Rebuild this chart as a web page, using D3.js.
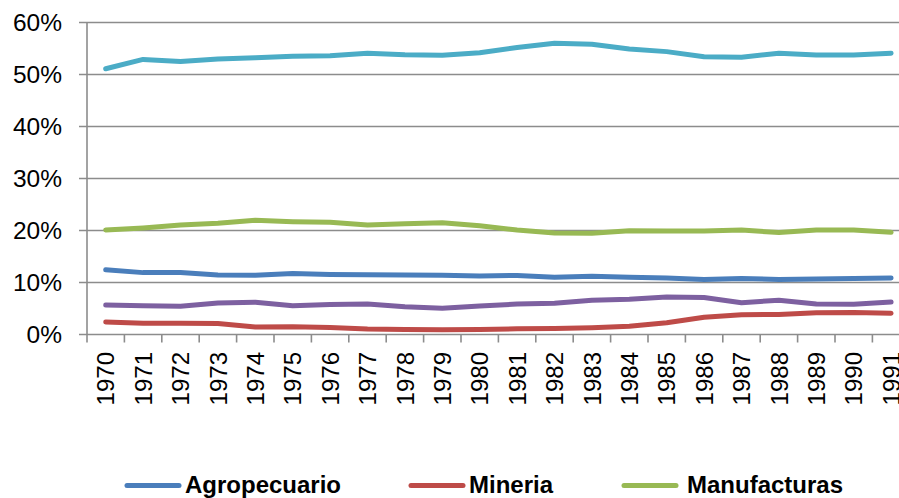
<!DOCTYPE html>
<html><head><meta charset="utf-8">
<script src="https://cdn.jsdelivr.net/npm/d3@7"></script>
<style>
html,body{margin:0;padding:0;background:#fff;overflow:hidden}
text{font-family:"Liberation Sans",Arial,sans-serif;fill:#000}
</style></head><body>
<svg id="c" width="899" height="498"></svg>
<script>
const years = ["1970","1971","1972","1973","1974","1975","1976","1977","1978","1979","1980","1981","1982","1983","1984","1985","1986","1987","1988","1989","1990","1991"];
const yTicks = [0,10,20,30,40,50,60];
const servicios    = [51.1,52.9,52.5,53.0,53.2,53.5,53.6,54.1,53.8,53.7,54.2,55.2,56.0,55.8,54.9,54.4,53.4,53.3,54.1,53.75,53.75,54.1];
const manufacturas = [20.1,20.5,21.05,21.4,21.95,21.7,21.6,21.05,21.3,21.5,20.9,20.1,19.5,19.45,19.95,19.9,19.9,20.1,19.6,20.1,20.1,19.65];
const agropecuario = [12.45,11.9,11.9,11.45,11.4,11.75,11.55,11.5,11.45,11.4,11.25,11.35,11.0,11.2,11.0,10.85,10.6,10.75,10.6,10.65,10.75,10.85];
const otros        = [5.65,5.55,5.45,6.05,6.2,5.55,5.75,5.85,5.35,5.05,5.5,5.85,6.0,6.6,6.8,7.2,7.1,6.1,6.6,5.85,5.8,6.25];
const mineria      = [2.4,2.15,2.15,2.1,1.45,1.5,1.35,1.05,0.95,0.9,0.95,1.1,1.15,1.3,1.6,2.25,3.3,3.8,3.85,4.2,4.25,4.1];

const seriesList = [
  {name:"Agropecuario", values:agropecuario, color:"#4A7EBB", legend:true},
  {name:"Mineria", values:mineria, color:"#BE4B48", legend:true},
  {name:"Manufacturas", values:manufacturas, color:"#98B954", legend:true},
  {name:"Otros", values:otros, color:"#7D60A0", legend:false},
  {name:"Servicios", values:servicios, color:"#4BACC6", legend:false}
];

const svg = d3.select("#c");
const plotLeft = 87, plotTop = 22.5, plotBottom = 334.5, bandW = 37.4;
const x = d3.scaleBand().domain(years).range([plotLeft, plotLeft + years.length*bandW]);
const y = d3.scaleLinear().domain([0,60]).range([plotBottom, plotTop]);
const axisColor = "#8c8c8c";

// gridlines
svg.append("g").selectAll("line").data(yTicks).join("line")
  .attr("x1", plotLeft-8).attr("x2", 905)
  .attr("y1", d=>y(d)).attr("y2", d=>y(d))
  .attr("stroke", axisColor).attr("stroke-width", 1.6);

// y axis line
svg.append("line").attr("x1", plotLeft).attr("x2", plotLeft).attr("y1", plotTop).attr("y2", plotBottom+8)
  .attr("stroke", axisColor).attr("stroke-width", 1.6);

// x tick marks at band boundaries
const bounds = years.map(d=>x(d)).concat([x(years[years.length-1])+bandW]);
svg.append("g").selectAll("line").data(bounds.slice(1)).join("line")
  .attr("x1", d=>d).attr("x2", d=>d).attr("y1", plotBottom).attr("y2", plotBottom+8)
  .attr("stroke", axisColor).attr("stroke-width", 1.6);

// y labels
svg.append("g").selectAll("text").data(yTicks).join("text")
  .attr("x", 62).attr("y", d=>y(d)).attr("dy","0.36em")
  .attr("text-anchor","end").attr("font-size", 24.5)
  .text(d=>d+"%");

// x labels
svg.append("g").selectAll("text").data(years).join("text")
  .attr("transform", d=>`translate(${x(d)+x.bandwidth()/2},352) rotate(-90)`)
  .attr("text-anchor","end").attr("dy","0.36em").attr("font-size", 24)
  .text(d=>d);

// lines
const line = d3.line().x((d,i)=>x(years[i])+x.bandwidth()/2).y(d=>y(d));
const drawOrder = [seriesList[4], seriesList[2], seriesList[0], seriesList[3], seriesList[1]];
svg.append("g").selectAll("path").data(drawOrder).join("path")
  .attr("d", s=>line(s.values)).attr("fill","none")
  .attr("stroke", s=>s.color).attr("stroke-width", 5)
  .attr("stroke-linejoin","round").attr("stroke-linecap","round");

// legend
const legendPos = [{lx:125, tx:185},{lx:409, tx:469},{lx:622, tx:687}];
const lg = svg.append("g");
seriesList.filter(s=>s.legend).forEach((s,i)=>{
  const p = legendPos[i];
  lg.append("line").attr("x1", p.lx+2).attr("x2", p.lx+54).attr("y1", 485.5).attr("y2", 485.5)
    .attr("stroke", s.color).attr("stroke-width", 5).attr("stroke-linecap","round");
  lg.append("text").attr("x", p.tx).attr("y", 493).attr("font-size", 24).attr("font-weight","bold")
    .text(s.name);
});
</script></body></html>
